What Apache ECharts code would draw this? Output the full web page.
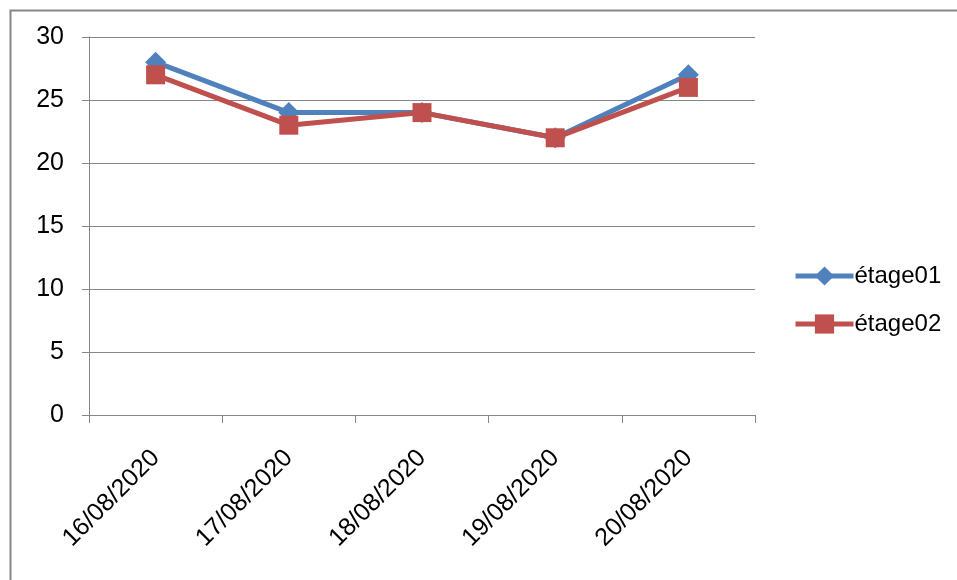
<!DOCTYPE html>
<html>
<head>
<meta charset="utf-8">
<script src="https://cdn.jsdelivr.net/npm/echarts@6/dist/echarts.min.js"></script>
<style>html,body{margin:0;padding:0;background:#fff;}#c{width:957px;height:580px;}</style>
</head>
<body>
<div id="c"></div>
<script>
var categories = ['16/08/2020', '17/08/2020', '18/08/2020', '19/08/2020', '20/08/2020'];
var etage01 = [28, 24, 24, 22, 27];
var etage02 = [27, 23, 24, 22, 26];
var yTicks = [0, 5, 10, 15, 20, 25, 30];

var chart = echarts.init(document.getElementById('c'));
var font = 'Liberation Sans';
chart.setOption({
  animation: false,
  backgroundColor: '#fff',
  grid: {left: 89, right: 202, top: 37, bottom: 165},
  graphic: [{
    type: 'rect', left: 8, top: 8,
    shape: {x: 0, y: 0, width: 960, height: 590},
    style: {fill: 'none', stroke: '#868686', lineWidth: 2}
  }],
  legend: {
    orient: 'vertical', left: 788, top: 259,
    itemWidth: 58, itemHeight: 24, itemGap: 24,
    lineStyle: {width: 5},
    textStyle: {fontFamily: font, fontSize: 24, color: '#000', padding: [0, 0, 0, -4]},
    data: ['étage01', 'étage02']
  },
  xAxis: {
    type: 'category', data: categories, boundaryGap: true,
    axisLine: {lineStyle: {color: '#868686', width: 1}},
    axisTick: {show: true, length: 8, interval: 0, lineStyle: {color: '#868686'}},
    axisLabel: {rotate: 45, interval: 0, margin: 39, fontFamily: font, fontSize: 25, color: '#000'}
  },
  yAxis: {
    type: 'value', min: yTicks[0], max: yTicks[yTicks.length - 1], interval: 5,
    axisLine: {show: true, lineStyle: {color: '#868686', width: 1}},
    axisTick: {show: true, length: 7, lineStyle: {color: '#868686'}},
    splitLine: {lineStyle: {color: '#868686', width: 1}},
    axisLabel: {margin: 25, fontFamily: font, fontSize: 25, color: '#000'}
  },
  series: [{
    name: 'étage01', type: 'line', data: etage01,
    symbol: 'diamond', symbolSize: 21,
    itemStyle: {color: '#4F81BD'},
    lineStyle: {color: '#4F81BD', width: 5}
  }, {
    name: 'étage02', type: 'line', data: etage02,
    symbol: 'rect', symbolSize: 19,
    itemStyle: {color: '#C0504D'},
    lineStyle: {color: '#C0504D', width: 5}
  }]
});
</script>
</body>
</html>
